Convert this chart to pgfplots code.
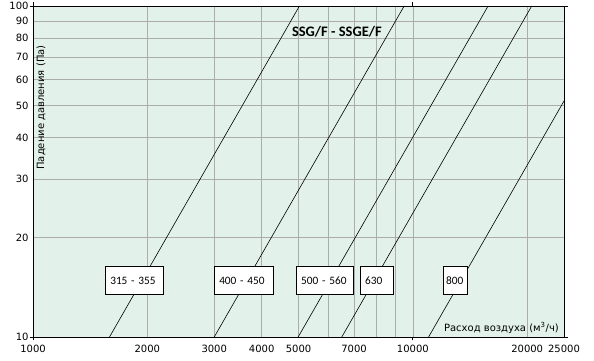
\documentclass[border=0pt]{standalone}
\usepackage{fontspec}
\setmainfont{DejaVu Sans}
\newfontfamily\cali{Carlito}
\usepackage{pgfplots}
\pgfplotsset{compat=1.18}
\definecolor{bgc}{RGB}{226,242,234}
\definecolor{gridc}{RGB}{172,172,172}
\begin{document}
\begin{tikzpicture}
\begin{axis}[
  at={(0,0)}, anchor=south west,
  scale only axis, width=531pt, height=331pt,
  xmode=log, ymode=log,
  xmin=1000, xmax=25000, ymin=10, ymax=100,
  axis background/.style={fill=bgc},
  axis line style={black, line width=0.8pt},
  xtick={1000,2000,3000,4000,5000,7000,10000,20000,25000},
  xticklabels={1000,2000,3000,4000,5000,7000,10000,20000,25000},
  minor xtick={6000,8000,9000},
  ytick={10,20,30,40,50,60,70,80,90,100},
  yticklabels={10,20,30,40,50,60,70,80,90,100},
  grid=both,
  major grid style={gridc, line width=0.7pt},
  minor grid style={gridc, line width=0.7pt},
  major tick length=0pt, minor tick length=0pt,
  extra x ticks={1000,10000}, extra x tick labels={},
  extra y ticks={10,100}, extra y tick labels={},
  extra tick style={grid=none, major tick length=3.5pt, tick align=outside, tick style={black, line width=0.8pt}},
  ticklabel style={font=\fontsize{10}{12}\selectfont},
  xticklabel style={yshift=-5pt},
  yticklabel style={xshift=-1pt},
  clip=true,
]
\addplot[black, line width=0.6pt] coordinates {(1590,10) (5028,100)};
\addplot[black, line width=0.6pt] coordinates {(3000,10) (9487,100)};
\addplot[black, line width=0.6pt] coordinates {(4990,10) (15780,100)};
\addplot[black, line width=0.6pt] coordinates {(6500,10) (20555,100)};
\addplot[black, line width=0.6pt] coordinates {(11000,10) (25000,51.65)};

\begin{scope}[every node/.style={draw=black, fill=white, line width=0.6pt, anchor=north west, minimum height=28.5pt, inner xsep=5pt, align=left, font=\cali\fontsize{11.3}{13}\selectfont}]
\node[minimum width=58pt, text width=48pt] at (axis cs:1547,16.39) {315 - 355};
\node[minimum width=59pt, text width=49pt] at (axis cs:2995,16.39) {400 - 450};
\node[minimum width=57pt, text width=47pt] at (axis cs:4922,16.39) {500 - 560};
\node[minimum width=33pt, text width=23pt] at (axis cs:7253,16.39) {630};
\node[minimum width=24pt, text width=18pt, inner xsep=3pt] at (axis cs:11990,16.39) {800};
\end{scope}

\node[font=\cali\bfseries\fontsize{14.5}{16}\selectfont, inner sep=0pt] at (axis cs:6310,83.4) {SSG/F - SSGE/F};
\node[rotate=90, inner sep=0pt, font=\fontsize{10}{12}\selectfont] at (rel axis cs:0.0151,0.6934) {Падение давления (Па)};
\node[anchor=east, inner sep=0pt, font=\fontsize{10}{12}\selectfont] at (rel axis cs:0.9906,0.027) {Расход воздуха (м\textsuperscript{3}/ч)};
\end{axis}
\pgfresetboundingbox
\path (-33pt,-24pt) rectangle (561pt,337pt);
\end{tikzpicture}
\end{document}
